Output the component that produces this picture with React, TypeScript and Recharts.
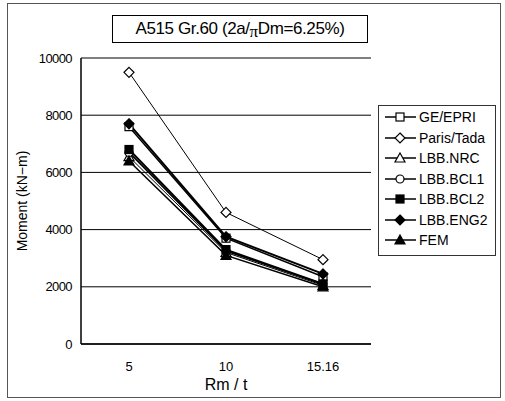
import React from "react";
import { LineChart, Line, XAxis, YAxis, CartesianGrid, Legend } from "recharts";

const categories = ["5", "10", "15.16"];
const geEpri = [7600, 3700, 2350];
const parisTada = [9500, 4600, 2950];
const lbbNrc = [6550, 3200, 2050];
const lbbBcl1 = [6700, 3250, 2100];
const lbbBcl2 = [6800, 3300, 2100];
const lbbEng2 = [7700, 3750, 2450];
const fem = [6400, 3100, 2000];
const yTicks = [0, 2000, 4000, 6000, 8000, 10000];
const yMinorTicks = [500, 1000, 1500, 2500, 3000, 3500, 4500, 5000, 5500, 6500, 7000, 7500, 8500, 9000, 9500];

type Shape = "square" | "diamond" | "triangle" | "circle";

const seriesList: { key: string; name: string; values: number[]; shape: Shape; filled: boolean; width: number }[] = [
  { key: "ge", name: "GE/EPRI", values: geEpri, shape: "square", filled: false, width: 1.5 },
  { key: "paris", name: "Paris/Tada", values: parisTada, shape: "diamond", filled: false, width: 1 },
  { key: "nrc", name: "LBB.NRC", values: lbbNrc, shape: "triangle", filled: false, width: 1 },
  { key: "bcl1", name: "LBB.BCL1", values: lbbBcl1, shape: "circle", filled: false, width: 1.5 },
  { key: "bcl2", name: "LBB.BCL2", values: lbbBcl2, shape: "square", filled: true, width: 2 },
  { key: "eng2", name: "LBB.ENG2", values: lbbEng2, shape: "diamond", filled: true, width: 2 },
  { key: "fem", name: "FEM", values: fem, shape: "triangle", filled: true, width: 1.5 },
];

const data = categories.map((c, i) => {
  const row: Record<string, string | number> = { cat: c };
  seriesList.forEach((s) => (row[s.key] = s.values[i]));
  return row;
});

function Marker({ cx, cy, shape, filled }: { cx: number; cy: number; shape: Shape; filled: boolean }) {
  const fill = filled ? "#000" : "#fff";
  const common = { fill, stroke: "#000", strokeWidth: 1.2 };
  if (shape === "square") return <rect x={cx - 4} y={cy - 4} width={8} height={8} {...common} />;
  if (shape === "diamond")
    return <polygon points={`${cx},${cy - 5} ${cx + 5},${cy} ${cx},${cy + 5} ${cx - 5},${cy}`} {...common} />;
  if (shape === "triangle")
    return <polygon points={`${cx},${cy - 5} ${cx + 5},${cy + 4} ${cx - 5},${cy + 4}`} {...common} />;
  return <circle cx={cx} cy={cy} r={4} {...common} />;
}

function LegendBox() {
  return (
    <div
      style={{
        border: "1px solid #333",
        background: "#fff",
        padding: "1px 0 4px 5px",
        fontFamily: "'Liberation Sans', Arial, sans-serif",
        fontSize: 14,
        color: "#000",
      }}
    >
      {seriesList.map((s) => (
        <div key={s.key} style={{ display: "flex", alignItems: "center", height: 20.5 }}>
          <svg width={33} height={14}>
            <line x1={1} y1={7} x2={32} y2={7} stroke="#000" strokeWidth={1.5} />
            <Marker cx={16} cy={7} shape={s.shape} filled={s.filled} />
          </svg>
          <span style={{ marginLeft: 2 }}>{s.name}</span>
        </div>
      ))}
    </div>
  );
}

export default function App() {
  const font = "'Liberation Sans', Arial, sans-serif";
  return (
    <div style={{ position: "absolute", left: 0, top: 0, width: 505, height: 401, background: "#fff" }}>
      <div
        style={{
          position: "absolute",
          left: 7,
          top: 3,
          width: 492,
          height: 393,
          border: "1px solid #555",
        }}
      />
      <div
        style={{
          position: "absolute",
          left: 112,
          top: 15,
          width: 254,
          height: 26,
          border: "1.5px solid #000",
          fontFamily: font,
          fontSize: 17,
          lineHeight: "26px",
          textAlign: "center",
          background: "#fff",
          letterSpacing: -0.4,
        }}
      >
        A515 Gr.60 (2a/<span style={{ position: "relative", top: 3, fontFamily: "serif" }}>π</span>Dm=6.25%)
      </div>
      <svg style={{ position: "absolute", left: 0, top: 0 }} width={40} height={401}>
        <text
          x={27}
          y={201}
          transform="rotate(-90 27 201)"
          textAnchor="middle"
          fontFamily={font}
          fontSize={14}
          fill="#000"
        >
          Moment (kN−m)
        </text>
      </svg>
      <div style={{ position: "absolute", left: 0, top: 0 }}>
        <LineChart width={505} height={401} data={data} margin={{ top: 58, right: 134, bottom: 7, left: 31 }}>
          <CartesianGrid vertical={false} stroke="#000" strokeWidth={1} />
          <XAxis
            dataKey="cat"
            height={50}
            padding={{ left: 48, right: 48 }}
            tickLine={false}
            axisLine={{ stroke: "#000", strokeWidth: 1.5 }}
            tick={{ fill: "#000", fontSize: 13, fontFamily: font }}
            tickMargin={12}
            label={{ value: "Rm / t", position: "insideBottom", offset: 4, fill: "#000", fontSize: 16, fontFamily: font }}
          />
          <XAxis xAxisId="top" orientation="top" dataKey="cat" height={0} tick={false} tickLine={false} axisLine={{ stroke: "#000", strokeWidth: 1.5 }} />
          <YAxis
            width={50}
            domain={[0, 10000]}
            ticks={yTicks}
            interval={0}
            tickLine={false}
            tickSize={0}
            tickMargin={9}
            axisLine={{ stroke: "#000", strokeWidth: 1.5 }}
            tick={{ fill: "#000", fontSize: 13, fontFamily: font, letterSpacing: -0.6 }}
          />
          <YAxis
            yAxisId="minor"
            orientation="left"
            width={0}
            mirror
            domain={[0, 10000]}
            ticks={yMinorTicks}
            interval={0}
            tickSize={3}
            axisLine={false}
            tickLine={{ stroke: "#000", strokeWidth: 1 }}
            tick={() => <g />}
          />
          <YAxis yAxisId="right" orientation="right" width={0} domain={[0, 10000]} tick={false} tickLine={false} axisLine={{ stroke: "#000", strokeWidth: 1.5 }} />
          {seriesList.map((s) => (
            <Line
              key={s.key}
              dataKey={s.key}
              name={s.name}
              type="linear"
              stroke="#000"
              strokeWidth={s.width}
              isAnimationActive={false}
              dot={(p: any) => (
                <g key={`${s.key}-${p.index}`}>
                  <Marker cx={p.cx} cy={p.cy} shape={s.shape} filled={s.filled} />
                </g>
              )}
            />
          ))}
          <Legend
            layout="horizontal"
            verticalAlign="middle"
            align="center"
            wrapperStyle={{ position: "absolute", left: 378, top: 105, width: 118 }}
            content={() => <LegendBox />}
          />
        </LineChart>
      </div>
    </div>
  );
}
